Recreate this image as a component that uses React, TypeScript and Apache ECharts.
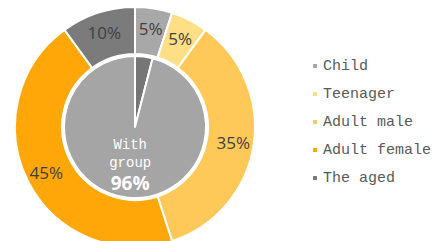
import React, { useEffect, useRef } from "react";
import * as echarts from "echarts";

const outerNames = ["Child", "Teenager", "Adult male", "Adult female", "The aged"];
const outerValues = [5, 5, 35, 45, 10];
const outerColors = ["#a8a8a8", "#ffdf85", "#ffc95a", "#ffa608", "#7b7b7b"];
const innerNames = ["Without group", "With group"];
const innerValues = [4, 96];
const innerColors = ["#767676", "#a5a5a5"];

export default function App() {
  const ref = useRef<HTMLDivElement>(null);
  useEffect(() => {
    if (!ref.current) return;
    const chart = echarts.init(ref.current, undefined, { renderer: "svg" });
    chart.setOption({
      animation: false,
      backgroundColor: "#ffffff",
      legend: {
        orient: "vertical",
        left: 306,
        top: 53,
        icon: "rect",
        itemWidth: 6,
        itemHeight: 6,
        itemGap: 12,
        data: outerNames,
        textStyle: { fontFamily: "Liberation Mono", fontSize: 15, color: "#595959", lineHeight: 16 },
      },
      series: [
        {
          type: "pie",
          name: "inner",
          center: [135, 127],
          radius: [0, 71],
          startAngle: 90,
          clockwise: true,
          itemStyle: { borderColor: "#ffffff", borderWidth: 2 },
          label: {
            position: "inside",
            formatter: (p: any) =>
              p.dataIndex === 1 ? "{a|With}\n{a|group}\n{b|" + p.value + "%}" : "",
            rich: {
              a: { fontFamily: "Liberation Mono", fontSize: 14, color: "#ffffff", lineHeight: 18 },
              b: { fontFamily: "Open Sans", fontSize: 19, fontWeight: "bold", color: "#ffffff", lineHeight: 22 },
            },
          },
          labelLine: { show: false },
          emphasis: { disabled: true },
          data: innerNames.map((n, i) => ({ name: n, value: innerValues[i], itemStyle: { color: innerColors[i] } })),
        },
        {
          type: "pie",
          name: "outer",
          center: [135, 127],
          radius: [73, 120],
          startAngle: 90,
          clockwise: true,
          itemStyle: { borderColor: "#ffffff", borderWidth: 2 },
          label: {
            position: "inside",
            formatter: "{c}%",
            fontFamily: "Open Sans",
            fontSize: 17,
            color: "#404040",
          },
          labelLine: { show: false },
          emphasis: { disabled: true },
          data: outerNames.map((n, i) => ({ name: n, value: outerValues[i], itemStyle: { color: outerColors[i] } })),
        },
      ],
    });
    return () => chart.dispose();
  }, []);
  return <div ref={ref} style={{ width: 433, height: 241, position: "absolute", left: 0, top: 0 }} />;
}
